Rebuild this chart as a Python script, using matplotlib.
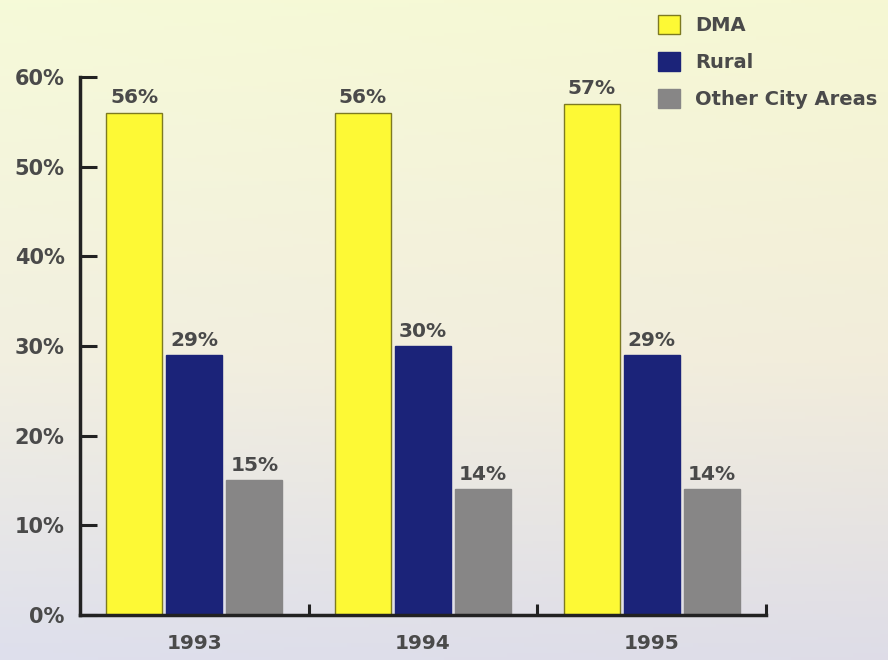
import numpy as np
import matplotlib
matplotlib.use("Agg")
import matplotlib.pyplot as plt
from matplotlib.patches import Patch

years = ["1993", "1994", "1995"]
series = ["DMA", "Rural", "Other City Areas"]
dma = [56, 56, 57]
rural = [29, 30, 29]
other = [15, 14, 14]
y_ticks = [0, 10, 20, 30, 40, 50, 60]

colors = ["#fdf935", "#1b2379", "#878686"]
edges = ["#7d7a22", "#1b2379", "#878686"]
txt = "#4a4a4a"

plt.rcParams['font.family'] = ['DejaVu Sans']
plt.rcParams['font.weight'] = 'bold'

fig = plt.figure(figsize=(8.88, 6.6), dpi=100)

# soft paper-like background gradient
bg = fig.add_axes([0, 0, 1, 1], zorder=-1)
h, w = 200, 200
yy, xx = np.mgrid[0:1:h*1j, 0:1:w*1j]
top = np.array([246, 249, 214]) / 255
mid = np.array([242, 238, 222]) / 255
bot = np.array([222, 222, 234]) / 255
t = yy[..., None]
img = np.where(t < 0.55, top + (mid - top) * (t / 0.55), mid + (bot - mid) * ((t - 0.55) / 0.45))
img = img - 0.02 * (xx[..., None] - 0.5) * np.array([0, 0.5, 1])
bg.imshow(np.clip(img, 0, 1), aspect='auto', extent=[0, 1, 0, 1])
bg.axis('off')

ax = fig.add_axes([0.0901, 0.0682, 0.7725, 0.8152])
ax.patch.set_alpha(0)

x = np.arange(len(years))
bw = 0.245
step = 0.263
data = [dma, rural, other]
for i, vals in enumerate(data):
    pos = x + (i - 1) * step
    ax.bar(pos, vals, width=bw, color=colors[i], edgecolor=edges[i], linewidth=1, zorder=2)
    for p, v in zip(pos, vals):
        ax.text(p, v + 0.6, f"{v}%", ha='center', va='bottom', fontsize=14.5, color=txt)

ax.set_xlim(-0.5, 2.5)
ax.set_ylim(0, 60)
ax.set_yticks(y_ticks)
ax.set_yticklabels([f"{v}%" for v in y_ticks])
ax.set_xticks(x)
ax.set_xticklabels(years)
ax.set_xticks([0.5, 1.5, 2.5], minor=True)

ax.tick_params(axis='y', direction='in', length=12, width=2.2, color='#222222',
               labelsize=15, labelcolor=txt, pad=11)
ax.tick_params(axis='x', which='major', length=0, labelsize=14.5, labelcolor=txt, pad=14)
ax.tick_params(axis='x', which='minor', direction='in', length=8, width=2.2, color='#222222')

for s in ['top', 'right']:
    ax.spines[s].set_visible(False)
for s in ['left', 'bottom']:
    ax.spines[s].set_linewidth(2.5)
    ax.spines[s].set_color('#222222')

handles = [Patch(facecolor=colors[i], edgecolor=edges[i], label=series[i]) for i in range(3)]
fig.legend(handles=handles, loc='upper left', bbox_to_anchor=(658 / 888, 1 - 15 / 660),
           frameon=False, fontsize=14, labelcolor=txt, handlelength=1.15, handleheight=1.15,
           labelspacing=0.85, handletextpad=0.75, borderpad=0, borderaxespad=0)

fig.savefig("out.png", dpi=100)
